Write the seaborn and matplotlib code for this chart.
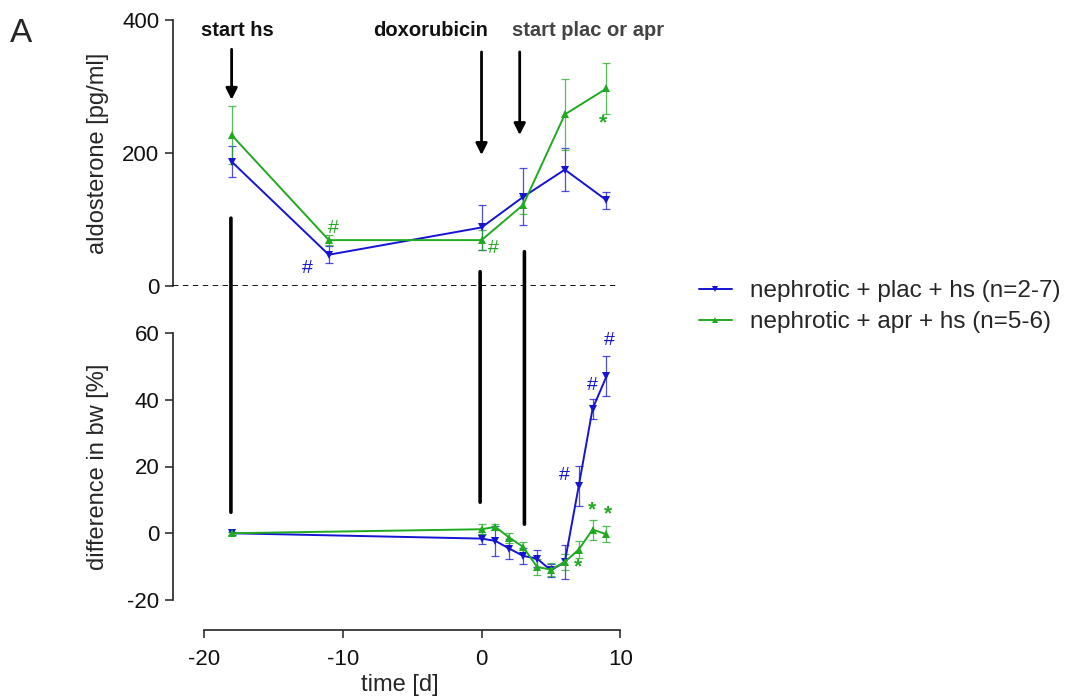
import numpy as np
import pandas as pd
import matplotlib
matplotlib.use("Agg")
import matplotlib.pyplot as plt
from matplotlib.lines import Line2D
from matplotlib.patches import ConnectionPatch
import seaborn as sns

# ---------------- data ----------------
time_aldo = [-18, -11, 0, 3, 6, 9]
aldo_plac = [187, 47, 88, 134, 175, 129]
aldo_plac_err = [23, 13, 34, 43, 32, 13]
aldo_apr = [227, 69, 69, 122, 258, 297]
aldo_apr_err = [43, 7, 15, 13, 53, 39]

time_bw = [-18, 0, 1, 2, 3, 4, 5, 6, 7, 8, 9]
bw_plac = [0, -1.6, -2.3, -4.6, -6.8, -7.6, -11.1, -8.6, 14.1, 37.3, 47.0]
bw_plac_err = [0.5, 1.5, 4.5, 3.0, 2.5, 2.5, 2.0, 5.0, 6.0, 3.0, 6.0]
bw_apr = [0, 1.2, 1.9, -1.3, -4.1, -10.1, -10.9, -8.6, -4.9, 1.1, -0.3]
bw_apr_err = [0.5, 1.5, 0.8, 1.5, 1.5, 2.5, 2.0, 2.5, 2.5, 3.0, 2.4]

labels = ["nephrotic + plac + hs (n=2-7)", "nephrotic + apr + hs (n=5-6)"]
events = ["start hs", "doxorubicin", "start plac or apr"]
event_x = [-18, 0, 2.75]

# significance marks: (x, y, text, group)
aldo_marks = [(-12.56, 26.6, "#", 0), (-10.69, 86.8, "#", 1), (0.84, 56.7, "#", 1), (8.73, 244.7, "*", 1)]
bw_marks = [(5.95, 17.4, "#", 0), (7.99, 44.3, "#", 0), (9.21, 57.8, "#", 0),
            (6.98, -10.1, "*", 1), (7.94, 6.9, "*", 1), (9.14, 5.9, "*", 1)]

BLUE = "#1414d2"
GREEN = "#20aa20"
colors = [BLUE, GREEN]
markers = ["v", "^"]

sns.set_style("ticks")
plt.rcParams["font.family"] = ["Liberation Sans", "DejaVu Sans"]
plt.rcParams["axes.unicode_minus"] = False
plt.rcParams["axes.edgecolor"] = "#222222"
plt.rcParams["xtick.color"] = "#222222"
plt.rcParams["ytick.color"] = "#222222"

df_aldo = pd.DataFrame({
    "time": time_aldo * 2,
    "value": aldo_plac + aldo_apr,
    "err": aldo_plac_err + aldo_apr_err,
    "group": [labels[0]] * len(time_aldo) + [labels[1]] * len(time_aldo),
})
df_bw = pd.DataFrame({
    "time": time_bw * 2,
    "value": bw_plac + bw_apr,
    "err": bw_plac_err + bw_apr_err,
    "group": [labels[0]] * len(time_bw) + [labels[1]] * len(time_bw),
})

W, H = 1078, 698
fig = plt.figure(figsize=(W / 100, H / 100), dpi=100)
ax1 = fig.add_axes([173.3 / W, (H - 286) / H, 454 / W, 266 / H])
ax2 = fig.add_axes([173.3 / W, (H - 600) / H, 454 / W, 267 / H])

palette = dict(zip(labels, colors))
mk = dict(zip(labels, markers))

for ax, df in [(ax1, df_aldo), (ax2, df_bw)]:
    for lab, c in zip(labels, colors):
        sub = df[df["group"] == lab]
        ax.errorbar(sub["time"], sub["value"], yerr=sub["err"], fmt="none",
                    ecolor=c, elinewidth=0.9, capsize=3, capthick=0.9, alpha=0.75, zorder=2)
    sns.lineplot(data=df, x="time", y="value", hue="group", style="group",
                 palette=palette, markers=mk, dashes=False, linewidth=1.4,
                 markersize=5.5, markeredgewidth=0, ax=ax, legend=False, zorder=3)
    ax.set_xlim(-22.2, 10.5)
    ax.set_xlabel("")

# top axes
ax1.set_ylim(0, 400)
ax1.set_yticks([0, 200, 400])
for s in ["top", "right", "bottom"]:
    ax1.spines[s].set_visible(False)
ax1.spines["left"].set_linewidth(1.2)
ax1.set_xticks([])
ax1.set_ylabel("aldosterone [pg/ml]", fontsize=17)
ax1.yaxis.set_label_coords(-0.142, 0.5)
ax1.hlines(0, -22.2, 9.7, colors="black", linestyles=(0, (3, 2.5)), linewidth=1.3, zorder=1)

# bottom axes
ax2.set_ylim(-20, 60)
ax2.set_yticks([-20, 0, 20, 40, 60])
for s in ["top", "right"]:
    ax2.spines[s].set_visible(False)
ax2.spines["left"].set_linewidth(1.2)
ax2.spines["bottom"].set_linewidth(1.2)
ax2.spines["bottom"].set_position(("outward", 21.6))
ax2.spines["bottom"].set_bounds(-20, 10)
ax2.set_xticks([-20, -10, 0, 10])
ax2.set_ylabel("difference in bw [%]", fontsize=17)
ax2.yaxis.set_label_coords(-0.142, 0.5)
ax2.set_xlabel("time [d]", fontsize=17, labelpad=3)

for ax in (ax1, ax2):
    ax.tick_params(axis="both", labelsize=16, length=6, width=1.1, pad=4, labelcolor="#111111")
ax2.tick_params(axis="x", pad=7.5)

# significance marks
for ax, marks in [(ax1, aldo_marks), (ax2, bw_marks)]:
    for x, y, t, g in marks:
        if t == "*":
            ax.text(x, y, t, color=colors[g], fontsize=15, fontweight="bold",
                    ha="center", va="center", zorder=5)
        else:
            ax.text(x, y, t, color=colors[g], fontsize=14,
                    ha="center", va="center", zorder=5)

# event labels and arrows
text_y = 383.5
arrow_top = [356, 352, 352]
arrow_tip = [280, 197, 227]
text_pos = [(-17.6, "center", "#111111"), (-3.7, "center", "#111111"), (2.19, "left", "#444444")]
for ev, x, at, tip, (tx, ha, tc) in zip(events, event_x, arrow_top, arrow_tip, text_pos):
    ax1.text(tx, text_y, ev, fontsize=14.5, fontweight="bold", ha=ha, va="center",
             color=tc, clip_on=False)
    ax1.annotate("", xy=(x, tip), xytext=(x, at),
                 arrowprops=dict(arrowstyle="-|>", color="black", lw=2.0,
                                 mutation_scale=17, shrinkA=0, shrinkB=0))

# vertical lines crossing both panels
vlines_x = [-18.05, -0.1, 3.09]
vlines_top = [102, 21.5, 51.6]
vlines_bot = [6.3, 9.3, 2.7]
for x, yt, yb in zip(vlines_x, vlines_top, vlines_bot):
    con = ConnectionPatch(xyA=(x, yt), coordsA=ax1.transData,
                          xyB=(x, yb), coordsB=ax2.transData,
                          color="black", linewidth=2.6)
    fig.add_artist(con)

# legend
handles = [Line2D([0], [0], color=c, marker=m, markersize=4.5, markeredgewidth=0, lw=1.4)
           for c, m in zip(colors, markers)]
fig.legend(handles, labels, loc="upper left", bbox_to_anchor=(699 / W, 1 - 280 / H),
           frameon=False, fontsize=17.5, handlelength=1.35, handletextpad=0.75,
           labelspacing=0.37, borderpad=0, borderaxespad=0)

fig.text(10 / W, 1 - 42 / H, "A", fontsize=24, ha="left", va="baseline")

fig.savefig("out.png", dpi=100)
